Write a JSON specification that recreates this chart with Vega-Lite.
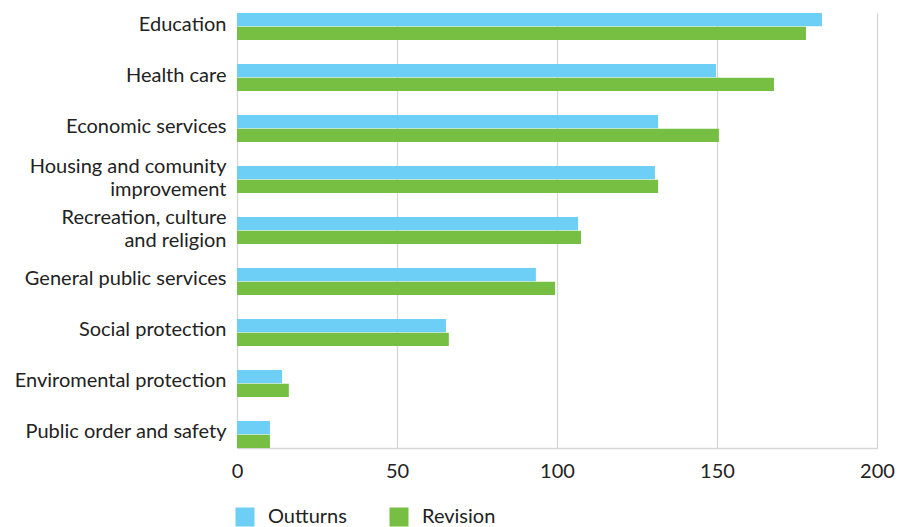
{
  "$schema": "https://vega.github.io/schema/vega-lite/v6.json",
  "autosize": {"type": "none"},
  "padding": {"left": 237, "top": 13, "right": 23, "bottom": 79},
  "width": 640,
  "height": 435,
  "background": "white",
  "config": {
    "view": {"stroke": null},
    "font": "Lato",
    "axis": {"labelFont": "Lato", "labelColor": "#222222", "labelFontSize": 20},
    "legend": {"labelFont": "Lato", "labelColor": "#222222", "labelFontSize": 20}
  },
  "data": {
    "values": [
      {"category": "Education", "series": "Outturns", "value": 182.8},
      {"category": "Education", "series": "Revision", "value": 177.8},
      {"category": "Health care", "series": "Outturns", "value": 149.7},
      {"category": "Health care", "series": "Revision", "value": 167.8},
      {"category": "Economic services", "series": "Outturns", "value": 131.6},
      {"category": "Economic services", "series": "Revision", "value": 150.6},
      {"category": "Housing and comunity|improvement", "series": "Outturns", "value": 130.6},
      {"category": "Housing and comunity|improvement", "series": "Revision", "value": 131.6},
      {"category": "Recreation, culture|and religion", "series": "Outturns", "value": 106.6},
      {"category": "Recreation, culture|and religion", "series": "Revision", "value": 107.5},
      {"category": "General public services", "series": "Outturns", "value": 93.4},
      {"category": "General public services", "series": "Revision", "value": 99.4},
      {"category": "Social protection", "series": "Outturns", "value": 65.3},
      {"category": "Social protection", "series": "Revision", "value": 66.2},
      {"category": "Enviromental protection", "series": "Outturns", "value": 14.1},
      {"category": "Enviromental protection", "series": "Revision", "value": 16.2},
      {"category": "Public order and safety", "series": "Outturns", "value": 10.3},
      {"category": "Public order and safety", "series": "Revision", "value": 10.3}
    ]
  },
  "mark": {"type": "bar"},
  "encoding": {
    "y": {
      "field": "category",
      "type": "nominal",
      "sort": null,
      "scale": {"paddingInner": 0.47, "paddingOuter": 0},
      "axis": {
        "title": null,
        "domain": false,
        "ticks": false,
        "grid": false,
        "labelPadding": 11,
        "labelExpr": "split(datum.label, '|')",
        "labelLineHeight": 23,
        "labelOffset": {"condition": {"test": "indexof(datum.label, '|') >= 0", "value": -13}, "value": -2},
        "labelLimit": 300
      }
    },
    "yOffset": {
      "field": "series",
      "type": "nominal",
      "scale": {"paddingInner": 0.04, "paddingOuter": 0}
    },
    "x": {
      "field": "value",
      "type": "quantitative",
      "scale": {"domain": [0, 200], "nice": false},
      "axis": {
        "title": null,
        "values": [0, 50, 100, 150, 200],
        "grid": true,
        "gridColor": "#d6d6d6",
        "gridWidth": 1.3,
        "domain": true,
        "domainColor": "#d6d6d6",
        "domainWidth": 1.3,
        "ticks": false,
        "labelPadding": 13,
        "labelFlush": false
      }
    },
    "color": {
      "field": "series",
      "type": "nominal",
      "scale": {"domain": ["Outturns", "Revision"], "range": ["#6dcff6", "#76bf43"]},
      "legend": {
        "title": null,
        "orient": "none",
        "direction": "horizontal",
        "legendX": -2,
        "legendY": 494,
        "symbolType": "square",
        "symbolSize": 361,
        "symbolStrokeWidth": 0,
        "labelOffset": 13,
        "columnPadding": 42
      }
    }
  }
}
